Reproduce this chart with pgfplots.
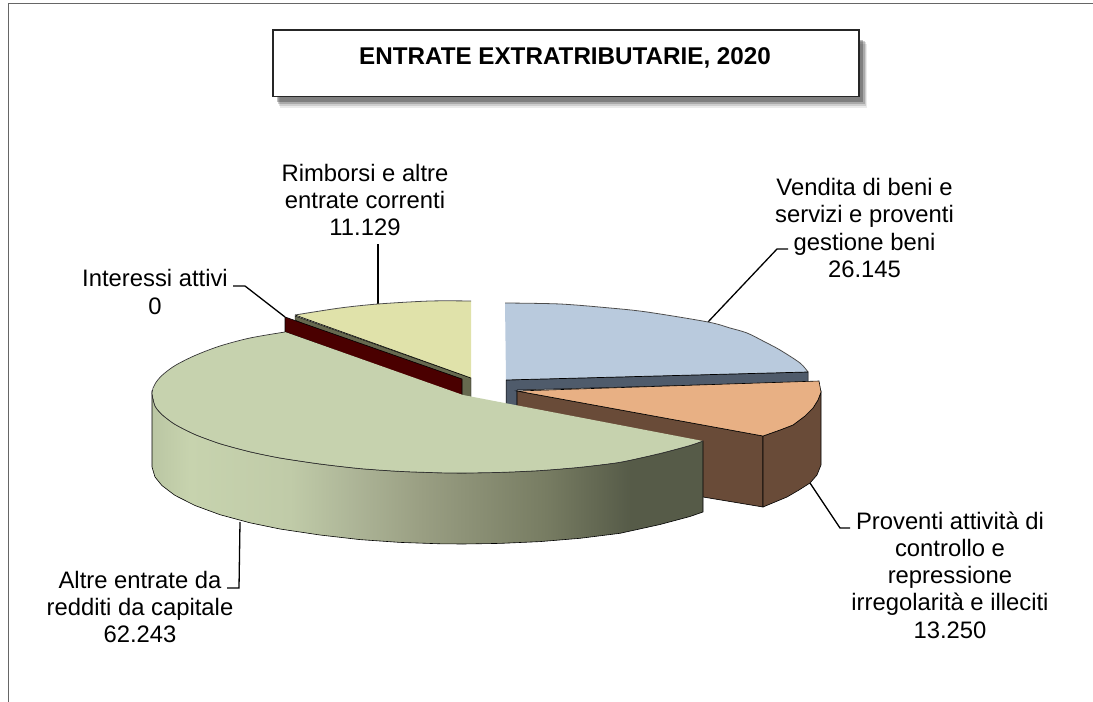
\documentclass[border=0pt]{standalone}
\usepackage{fontspec}
\setmainfont{Liberation Sans}
\usepackage{pgfplots}
\pgfplotsset{compat=1.18}
\definecolor{wA}{HTML}{BAC6A3}
\definecolor{wB}{HTML}{C7D3AE}
\definecolor{wC}{HTML}{C0CBA8}
\definecolor{wD}{HTML}{AEB698}
\definecolor{wE}{HTML}{9A9F83}
\definecolor{wF}{HTML}{8E9378}
\definecolor{wG}{HTML}{777C62}
\definecolor{wH}{HTML}{565B48}
\pgfdeclarehorizontalshading{wallthreed}{100bp}{color(0bp)=(wA); color(25bp)=(wA); color(28.4bp)=(wB); color(37.5bp)=(wC); color(43bp)=(wD); color(49.3bp)=(wE); color(53.2bp)=(wF); color(60.8bp)=(wG); color(68.4bp)=(wH); color(75bp)=(wH); color(100bp)=(wH)}
\definecolor{cGreen}{HTML}{C6D2AE}
\definecolor{cYellow}{HTML}{E0E2AA}
\definecolor{cOlive}{HTML}{66694F}
\definecolor{cRed}{HTML}{4A0000}
\definecolor{cBlue}{HTML}{B9CADD}
\definecolor{cSlate}{HTML}{4F5B6B}
\definecolor{cOrange}{HTML}{E8B084}
\definecolor{cBrown}{HTML}{694B38}
\newcommand{\lab}{\fontsize{23.9}{27.4}\selectfont}
\begin{document}
\begin{tikzpicture}
\begin{axis}[scale only axis, width=1093bp, height=702bp, xmin=0, xmax=1093, ymin=0, ymax=702, y dir=reverse, hide axis, clip=false]
\path[use as bounding box] (axis cs:0,0) rectangle (axis cs:1093,702);
% frame
\addplot[black!60, line width=1pt] coordinates {(8,702) (8,3.5) (1093,3.5)};
% title box shadow
\addplot[fill=black, fill opacity=0.08, draw=none] coordinates {(280,44) (867,44) (867,108) (280,108)} -- cycle;
\addplot[fill=black, fill opacity=0.12, draw=none] coordinates {(279,42) (866,42) (866,106) (279,106)} -- cycle;
\addplot[fill=black, fill opacity=0.18, draw=none] coordinates {(278,41) (865,41) (865,104) (278,104)} -- cycle;
\addplot[fill=black, fill opacity=0.25, draw=none] coordinates {(277,40) (863,40) (863,102) (277,102)} -- cycle;
% title box
\addplot[fill=white, draw=black!85, line width=1.6pt] coordinates {(273,30) (859,30) (859,96.5) (273,96.5)} -- cycle;
% leader lines
\addplot[black, line width=1.3pt] coordinates {(378,244) (378,304)};
\addplot[black, line width=1.3pt] coordinates {(233,286) (245,286) (285,317)};
\addplot[black, line width=1.3pt] coordinates {(788,249) (777,249) (708,322)};
\addplot[black, line width=1.3pt] coordinates {(810,483) (840,528) (850,528)};
\addplot[black, line width=1.3pt] coordinates {(240,522) (239,588) (227,588)};
% yellow slice
\addplot[fill=cOlive, draw=black, thin] coordinates {(295,316) (471,378) (471,400) (295,320)} -- cycle;
\addplot[fill=cYellow, draw=none] coordinates {(295,315) (340,308) (378,304) (430,301) (471,301) (471,378)} -- cycle;
\addplot[gray!60!black, line width=0.8pt, smooth, tension=0.5] coordinates {(295,315) (340,308) (378,304) (430,301) (471,301)};
\addplot[black, line width=0.6pt] coordinates {(295,315) (471,378)};
% red face
\addplot[fill=cRed, draw=black, line width=0.6pt] coordinates {(285,317) (462,379) (462,396) (285,332)} -- cycle;
% blue slice
\addplot[fill=cSlate, draw=black, line width=0.5pt] coordinates {(506,380) (808,372) (808,382) (517,390) (517,420) (506,420)} -- cycle;
\addplot[fill=cBlue, draw=none] coordinates {(505,303) (560,304) (610,308) (647,312) (708,322) (730,328) (747,333) (765,342) (780,350) (800,363) (808,372) (506,380)} -- cycle;
\addplot[gray!60!black, line width=0.8pt, smooth, tension=0.5] coordinates {(505,303) (560,304) (610,308) (647,312) (708,322) (730,328) (747,333) (765,342) (780,350) (800,363) (808,372)};
\addplot[black, line width=0.7pt] coordinates {(808,372) (506,380)};
% orange slice
\addplot[fill=cBrown, draw=black, line width=0.6pt] coordinates {(517,391) (763,436) (763,507) (703,497) (680,470) (517,425)} -- cycle;
\addplot[fill=cBrown, draw=black, line width=0.6pt] coordinates {(763,436) (780,430) (793,425) (805,416) (813,408) (818,400) (821,392) (821,465) (817,475) (810,483) (799,490) (787,497) (763,507)} -- cycle;
\addplot[fill=cOrange, draw=black, line width=0.6pt] coordinates {(819,381) (517,391) (763,436) (780,430) (793,425) (805,416) (813,408) (818,400) (821,392)} -- cycle;
% large green slice: wall
\addplot[shade, shading=wallthreed, draw=black, line width=0.6pt] coordinates {
(152,393) (155,406) (162,414.6) (175,424.4) (195,434.5) (220,443.7) (250,451.8) (280,458) (320,464) (360,468.6) (400,471.4) (440,472.8) (463,473) (500,472.4) (540,470.6) (580,467.3) (620,462.3) (660,453.5) (690,445.5) (703,441)
(703,512) (690,516.5) (660,524.5) (620,533.3) (580,538.3) (540,541.6) (500,543.4) (463,544) (440,543.8) (400,542.4) (360,539.6) (320,535) (280,529) (250,522.8) (220,514.7) (195,505.5) (175,495.4) (162,485.6) (155,477) (152,467)} -- cycle;
% large green slice: top
\addplot[fill=cGreen, draw=none] coordinates {
(285,332) (250,338) (220,346) (195,355.5) (175,365.6) (162,375.4) (155,384) (152,393) (155,406) (162,414.6) (175,424.4) (195,434.5) (220,443.7) (250,451.8) (280,458) (320,464) (360,468.6) (400,471.4) (440,472.8) (463,473) (500,472.4) (540,470.6) (580,467.3) (620,462.3) (660,453.5) (690,445.5) (703,441) (463,395)} -- cycle;
\addplot[black!80, line width=0.7pt, smooth, tension=0.5] coordinates {
(285,332) (250,338) (220,346) (195,355.5) (175,365.6) (162,375.4) (155,384) (152,393) (155,406) (162,414.6) (175,424.4) (195,434.5) (220,443.7) (250,451.8) (280,458) (320,464) (360,468.6) (400,471.4) (440,472.8) (463,473) (500,472.4) (540,470.6) (580,467.3) (620,462.3) (660,453.5) (690,445.5) (703,441)};
% texts
\node[font=\fontsize{24.3}{27}\selectfont\bfseries] at (axis cs:565,58) {ENTRATE EXTRATRIBUTARIE, 2020};
\node[font=\lab, align=center] at (axis cs:365,200) {Rimborsi e altre\\entrate correnti\\11.129};
\node[font=\lab, align=center] at (axis cs:155,292) {Interessi attivi\\0};
\node[font=\lab, align=center] at (axis cs:864.5,228) {Vendita di beni e\\servizi e proventi\\gestione beni\\26.145};
\node[font=\lab, align=center] at (axis cs:950,575) {Proventi attività di\\controllo e\\repressione\\irregolarità e illeciti\\13.250};
\node[font=\lab, align=center] at (axis cs:140,607) {Altre entrate da\\redditi da capitale\\62.243};
\end{axis}
\end{tikzpicture}
\end{document}
